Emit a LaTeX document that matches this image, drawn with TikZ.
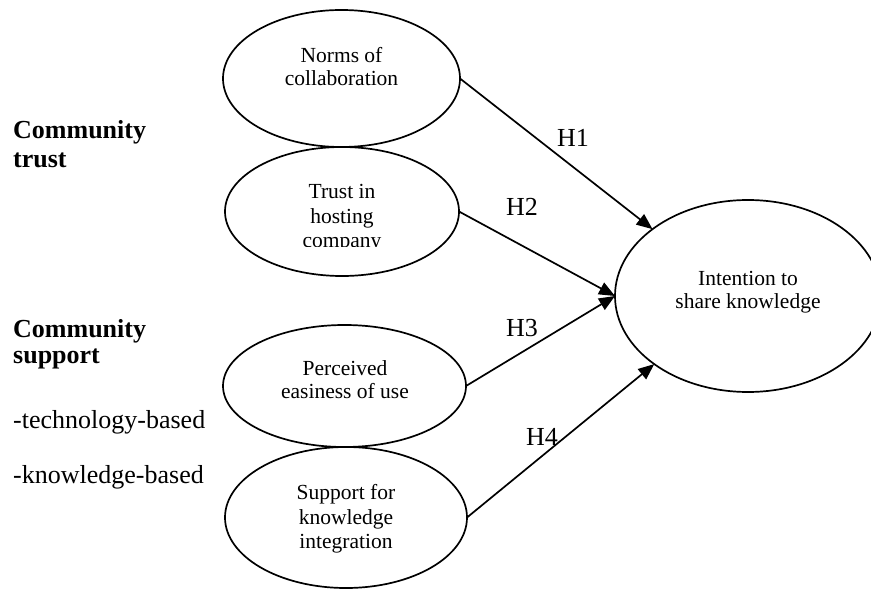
\documentclass[tikz,border=0pt]{standalone}
\usepackage{fontspec}
\setmainfont{Liberation Serif}
\usetikzlibrary{shapes.geometric,arrows.meta}
\begin{document}
\begin{tikzpicture}[x=1pt,y=-1pt,
  oval/.style={draw,ellipse,line width=1.7pt,inner sep=0pt,outer sep=0pt},
  etext/.style={anchor=base,inner sep=0pt,font=\fontsize{21.5}{24}\selectfont},
  hlab/.style={anchor=base,inner sep=0pt,font=\fontsize{26}{29}\selectfont},
  side/.style={anchor=base west,inner sep=0pt,font=\fontsize{26}{29}\selectfont},
  sideb/.style={anchor=base west,inner sep=0pt,font=\fontsize{26}{29}\selectfont\bfseries},
  conn/.style={line width=1.7pt,-{Triangle[length=16pt,width=13pt]}}]
\useasboundingbox (0,0) rectangle (871,591);
\clip (0,0) rectangle (871,591);

% ellipses
\node[oval,minimum width=237pt,minimum height=137pt] (norms) at (341.5,78.5) {};
\node[oval,minimum width=234pt,minimum height=129pt] (trust) at (342,211.5) {};
\node[oval,minimum width=243pt,minimum height=122pt] (perc) at (344.5,386) {};
\node[oval,minimum width=242pt,minimum height=141pt] (supp) at (346,517.5) {};
\node[oval,minimum width=266pt,minimum height=192pt] (intent) at (748,296) {};

% ellipse texts
\node[etext] (n1) at (341.5,63) {Norms of};
\node[etext] (n2) at (341.5,86) {collaboration};
\node[etext] (t1) at (342,199) {Trust in};
\node[etext] (t2) at (342,223) {hosting};
\begin{scope}
  \clip (200,150) rectangle (480,246);
  \node[etext] (t3) at (342,247.5) {company};
\end{scope}
\node[etext] (p1) at (345,375) {Perceived};
\node[etext] (p2) at (345,398) {easiness of use};
\node[etext] (s1) at (346,499) {Support for};
\node[etext] (s2) at (346,524) {knowledge};
\node[etext] (s3) at (346,548) {integration};
\node[etext] (i1) at (748,285) {Intention to};
\node[etext] (i2) at (748,308) {share knowledge};

% side labels
\node[sideb] (ct1) at (13,139) {Community};
\node[sideb] (ct2) at (13,168) {trust};
\node[sideb] (cs1) at (13,337) {Community};
\node[sideb] (cs2) at (13,363) {support};
\node[side] (tb) at (13,428) {-technology-based};
\node[side] (kb) at (13,483) {-knowledge-based};

% connectors
\draw[conn] (norms.east) -- (intent.145);
\draw[conn] (trust.east) -- (intent.west);
\draw[conn] (perc.east) -- (intent.west);
\draw[conn] (supp.east) -- (intent.216);

% hypothesis labels
\node[hlab] (h1) at (573,147) {H1};
\node[hlab] (h2) at (522,215) {H2};
\node[hlab] (h3) at (522,336) {H3};
\node[hlab] (h4) at (542,445) {H4};
\end{tikzpicture}
\end{document}
